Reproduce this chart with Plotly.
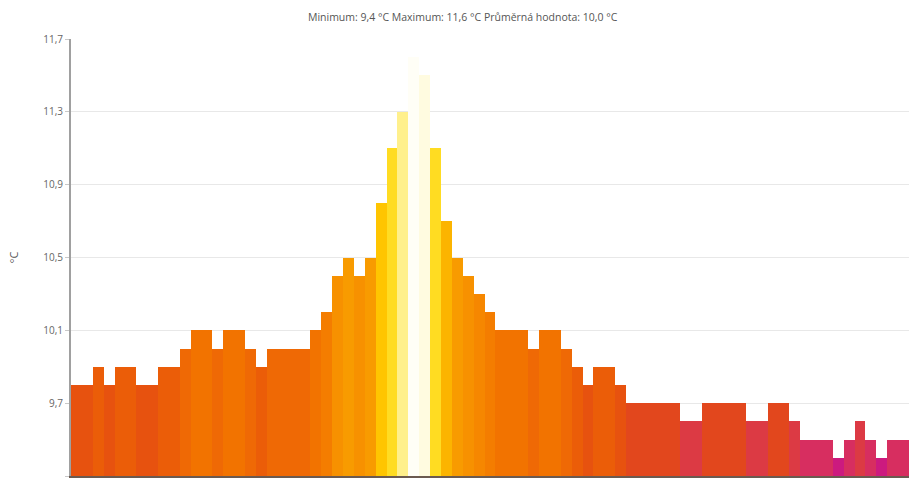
import plotly.graph_objects as go

# Temperature readings (°C), one per bar, left to right
values = [
    9.8, 9.8, 9.9, 9.8, 9.9, 9.9, 9.8, 9.8, 9.9, 9.9,
    10.0, 10.1, 10.1, 10.0, 10.1, 10.1, 10.0, 9.9, 10.0, 10.0,
    10.0, 10.0, 10.1, 10.2, 10.4, 10.5, 10.4, 10.5, 10.8, 11.1,
    11.3, 11.6, 11.5, 11.1, 10.7, 10.5, 10.4, 10.3, 10.2, 10.1,
    10.1, 10.1, 10.0, 10.1, 10.1, 10.0, 9.9, 9.8, 9.9, 9.9,
    9.8, 9.7, 9.7, 9.7, 9.7, 9.7, 9.6, 9.6, 9.7, 9.7,
    9.7, 9.7, 9.6, 9.6, 9.7, 9.7, 9.6, 9.5, 9.5, 9.5,
    9.4, 9.5, 9.6, 9.5, 9.4, 9.5, 9.5,
]
positions = list(range(len(values)))
tick_values = [9.3, 9.7, 10.1, 10.5, 10.9, 11.3, 11.7]

title_text = "Minimum: 9,4 °C Maximum: 11,6 °C Průměrná hodnota: 10,0 °C"
y_title = "°C"

vmin, vmax = min(values), max(values)
color_points = [
    (9.4, "#cc1a7f"), (9.5, "#d72e60"), (9.6, "#dc3a44"), (9.7, "#e2471d"),
    (9.8, "#e7520f"), (9.9, "#eb5d08"), (10.0, "#ef6905"), (10.1, "#f27300"),
    (10.2, "#f47d00"), (10.3, "#f68700"), (10.4, "#f79100"), (10.5, "#f89b00"),
    (10.7, "#fcb400"), (10.8, "#ffc500"), (11.1, "#ffdc22"), (11.3, "#fff08c"),
    (11.5, "#fffbe0"), (11.6, "#fffef6"),
]
colorscale = [[(v - vmin) / (vmax - vmin), c] for v, c in color_points]

fig = go.Figure(
    go.Bar(
        x=positions,
        y=values,
        marker=dict(
            color=values,
            colorscale=colorscale,
            cmin=vmin,
            cmax=vmax,
            line=dict(width=0),
        ),
        hoverinfo="y",
    )
)

fig.update_layout(
    width=909,
    height=479,
    margin=dict(l=71, r=0, t=39, b=3),
    paper_bgcolor="white",
    plot_bgcolor="white",
    bargap=0,
    separators=", ",
    showlegend=False,
    font=dict(family="Open Sans, Noto Sans, sans-serif", color="#555555"),
    title=dict(
        text=title_text,
        x=0.509,
        xanchor="center",
        y=0.964,
        yanchor="middle",
        font=dict(size=10.5, color="#555555"),
        automargin=False,
    ),
)

fig.update_xaxes(
    range=[-0.5, len(values) - 0.5],
    showticklabels=False,
    showgrid=False,
    zeroline=False,
    showline=True,
    linecolor="#6b5a50",
    linewidth=2,
    ticks="",
    automargin=False,
)

fig.update_yaxes(
    range=[9.3, 11.7],
    tickvals=tick_values,
    tickformat=".1f",
    showgrid=True,
    gridcolor="#e8e8e8",
    gridwidth=1,
    zeroline=False,
    showline=True,
    linecolor="#a0a0a0",
    linewidth=2,
    ticks="outside",
    ticklen=4,
    tickcolor="#c8c8c8",
    tickfont=dict(size=10, color="#666666"),
    title=dict(text=y_title, font=dict(size=11, color="#555555"), standoff=22),
    automargin=False,
)

fig.write_html(
    "out.html",
    config={"displayModeBar": False},
    post_script="document.body.style.margin='0';document.body.style.overflow='hidden';",
)
